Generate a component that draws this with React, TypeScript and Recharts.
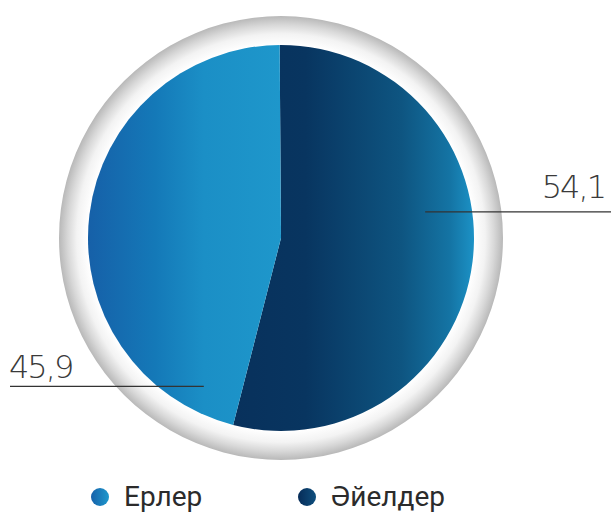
import React from 'react';
import { PieChart, Pie, Cell, Legend } from 'recharts';

const categories = ['Әйелдер', 'Ерлер'];
const shares = [54.1, 45.9];
const shareLabels = ['54,1', '45,9'];
const legendOrder = ['Ерлер', 'Әйелдер'];

const gradientIds: Record<string, string> = { 'Әйелдер': 'gradWomen', 'Ерлер': 'gradMen' };

const pieData = categories.map((name, i) => ({ name, value: shares[i], label: shareLabels[i] }));
const ringData = [{ name: 'ring', value: 1 }];

const CX = 281;
const CY = 238;
const R = 193;

// label lines sit at fixed spots relative to the pie, not at the slice midpoints
const renderLabel = (props: any) => {
  const { cx, cy, outerRadius, index, payload } = props;
  const r = outerRadius;
  const text = payload.label ?? pieData[index].label;
  const textStyle = { letterSpacing: '-2px' };
  if (index === 0) {
    const y = cy - r * 0.135;
    return (
      <g>
        <line x1={cx + r * 0.747} y1={y} x2={611} y2={y} stroke="#333" strokeWidth={1.2} />
        <text x={605} y={y - 14} textAnchor="end" fill="#3a3a3a" fontSize={32} fontFamily="'DejaVu Sans'" fontWeight={200} style={textStyle}>
          {text}
        </text>
      </g>
    );
  }
  const y = cy + r * 0.769;
  return (
    <g>
      <line x1={10} y1={y} x2={cx - r * 0.4} y2={y} stroke="#333" strokeWidth={1.2} />
      <text x={9} y={y - 8} textAnchor="start" fill="#3a3a3a" fontSize={32} fontFamily="'DejaVu Sans'" fontWeight={200} style={textStyle}>
        {text}
      </text>
    </g>
  );
};

const LegendContent = () => (
  <div style={{ position: 'relative', height: 34, width: 611 }}>
    {legendOrder.map((name, i) => (
      <div
        key={name}
        style={{
          position: 'absolute',
          left: i === 0 ? 90 : 297,
          top: 0,
          display: 'flex',
          alignItems: 'center',
          fontFamily: 'Roboto, sans-serif',
          fontSize: 28,
          color: '#2b2b2b',
        }}
      >
        <svg width={20} height={20} style={{ marginRight: 14 }}>
          <defs>
            <linearGradient id={'lg' + i} x1="0" y1="0" x2="1" y2="0">
              {i === 0 ? (
                <>
                  <stop offset="0%" stopColor="#1661aa" />
                  <stop offset="100%" stopColor="#1e98cc" />
                </>
              ) : (
                <>
                  <stop offset="0%" stopColor="#062c58" />
                  <stop offset="100%" stopColor="#0f4f7e" />
                </>
              )}
            </linearGradient>
          </defs>
          <circle cx={10} cy={10} r={9} fill={`url(#lg${i})`} />
        </svg>
        <span>{name}</span>
      </div>
    ))}
  </div>
);

export default function App() {
  return (
    <div style={{ position: 'absolute', left: 0, top: 0, width: 611, height: 512, background: '#fff' }}>
      <PieChart width={611} height={512} margin={{ top: 0, right: 0, bottom: 0, left: 0 }}>
        <defs>
          <radialGradient id="ringGrad" cx="50%" cy="50%" r="50%">
            <stop offset="0%" stopColor="#ffffff" />
            <stop offset="87%" stopColor="#ffffff" />
            <stop offset="92%" stopColor="#f3f3f3" />
            <stop offset="96%" stopColor="#d8d8d8" />
            <stop offset="100%" stopColor="#b8b8b8" />
          </radialGradient>
          <linearGradient id="gradMen" x1="0" y1="0" x2="1" y2="0">
            <stop offset="0%" stopColor="#1660a8" />
            <stop offset="35%" stopColor="#1479b8" />
            <stop offset="60%" stopColor="#1b8fc6" />
            <stop offset="100%" stopColor="#1e97cb" />
          </linearGradient>
          <linearGradient id="gradWomen" x1="0" y1="0" x2="1" y2="0">
            <stop offset="0%" stopColor="#08315c" />
            <stop offset="30%" stopColor="#083560" />
            <stop offset="70%" stopColor="#0e5581" />
            <stop offset="90%" stopColor="#1474a4" />
            <stop offset="100%" stopColor="#1c92c6" />
          </linearGradient>
        </defs>
        <Pie
          data={ringData}
          dataKey="value"
          cx={CX}
          cy={CY}
          outerRadius={222}
          innerRadius={0}
          startAngle={90}
          endAngle={-270}
          stroke="none"
          isAnimationActive={false}
          legendType="none"
        >
          <Cell fill="url(#ringGrad)" />
        </Pie>
        <Pie
          data={pieData}
          dataKey="value"
          cx={CX}
          cy={CY}
          outerRadius={R}
          innerRadius={0}
          startAngle={90.4}
          endAngle={-269.6}
          stroke="none"
          label={renderLabel}
          labelLine={false}
          isAnimationActive={false}
        >
          {pieData.map((d) => (
            <Cell key={d.name} fill={`url(#${gradientIds[d.name]})`} />
          ))}
        </Pie>
        <Legend
          verticalAlign="bottom"
          content={<LegendContent />}
          wrapperStyle={{ left: 0, bottom: -2, width: 611, height: 34 }}
        />
      </PieChart>
    </div>
  );
}
